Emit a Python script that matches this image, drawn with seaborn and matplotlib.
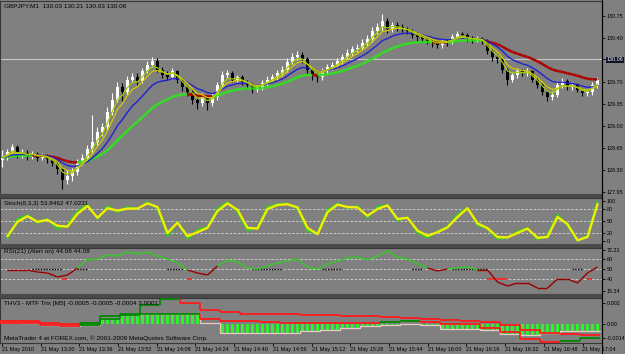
import numpy as np
import pandas as pd
import matplotlib
matplotlib.use("Agg")
import matplotlib.pyplot as plt
from matplotlib.collections import LineCollection
from matplotlib.patches import Rectangle
from matplotlib.lines import Line2D
import seaborn as sns

sns.set_theme(style="white")
plt.rcParams['font.family'] = ['Liberation Sans Narrow', 'Liberation Sans', 'DejaVu Sans']

# ---------------- data (2-minute bars) ----------------
first_open = 128.46
closes = [128.50,128.59,128.66,128.55,128.58,128.51,128.56,128.50,128.53,128.47,
          128.42,128.31,128.15,128.21,128.27,128.42,128.50,128.63,128.75,128.91,
          128.98,129.23,129.42,129.62,129.55,129.74,129.78,129.71,129.87,129.97,
          130.03,129.90,129.81,129.78,129.87,129.74,129.62,129.55,129.42,129.36,
          129.46,129.36,129.46,129.65,129.81,129.84,129.74,129.78,129.70,129.65,
          129.58,129.62,129.68,129.74,129.78,129.84,129.90,130.02,130.10,130.13,
          130.06,129.90,129.81,129.78,129.87,129.94,129.97,130.03,130.10,130.16,
          130.22,130.25,130.32,130.38,130.51,130.57,130.67,130.54,130.61,130.57,
          130.54,130.51,130.45,130.41,130.38,130.35,130.32,130.29,130.35,130.33,
          130.41,130.46,130.45,130.38,130.37,130.38,130.35,130.19,130.10,130.06,
          129.90,129.74,129.81,129.87,129.84,129.87,129.74,129.65,129.55,129.47,
          129.50,129.65,129.71,129.62,129.65,129.58,129.52,129.54,129.65,129.74]
highs = [128.62,128.64,128.72,128.70,128.63,128.62,128.60,128.59,128.58,128.56,
         128.50,128.45,128.35,128.30,128.33,128.47,128.56,128.70,129.18,128.98,
         129.05,129.30,129.52,129.70,129.68,129.80,129.85,129.84,129.93,130.03,
         130.10,130.08,129.94,129.88,129.92,129.90,129.77,129.66,129.58,129.46,
         129.52,129.50,129.52,129.70,129.88,129.90,129.88,129.82,129.82,129.74,
         129.68,129.67,129.73,129.79,129.83,129.90,129.96,130.08,130.16,130.20,
         130.18,130.10,129.94,129.86,129.92,129.99,130.02,130.08,130.15,130.22,
         130.28,130.31,130.38,130.45,130.58,130.64,130.78,130.72,130.66,130.65,
         130.62,130.58,130.55,130.49,130.45,130.42,130.40,130.36,130.40,130.39,
         130.46,130.52,130.50,130.48,130.43,130.43,130.41,130.38,130.23,130.14,
         130.09,129.93,129.86,129.92,129.91,129.93,129.90,129.78,129.68,129.58,
         129.56,129.72,129.76,129.75,129.70,129.68,129.61,129.58,129.70,129.78]
lows = [128.35,128.46,128.55,128.50,128.50,128.46,128.47,128.45,128.46,128.42,
        128.36,128.24,128.00,128.08,128.12,128.22,128.38,128.46,128.58,128.70,
        128.85,128.94,129.18,129.38,129.40,129.50,129.70,129.66,129.68,129.84,
        129.94,129.86,129.76,129.73,129.75,129.68,129.56,129.48,129.35,129.28,
        129.32,129.26,129.32,129.42,129.60,129.76,129.70,129.70,129.66,129.60,
        129.52,129.54,129.58,129.64,129.70,129.74,129.80,129.86,129.98,130.05,
        130.00,129.85,129.74,129.70,129.74,129.83,129.90,129.93,129.99,130.06,
        130.12,130.18,130.21,130.28,130.34,130.46,130.52,130.48,130.50,130.52,
        130.49,130.46,130.40,130.36,130.33,130.30,130.26,130.24,130.25,130.28,
        130.30,130.38,130.40,130.33,130.32,130.33,130.31,130.14,130.04,130.00,
        129.84,129.66,129.70,129.77,129.79,129.80,129.70,129.60,129.50,129.40,
        129.42,129.46,129.60,129.58,129.57,129.54,129.48,129.48,129.50,129.60]
bid_price = 130.06
price_ticks = [130.75, 130.40, 130.06, 129.70, 129.35, 129.00, 128.65, 128.30, 127.95]

# Stochastic (every second bar)
stoch_main = [12,48,62,48,53,38,36,68,88,58, 82,76,81,81,94,85,20,46,12,22,
              33,75,94,78,33,31,80,90,92,84, 33,17,72,91,85,84,63,80,89,55,
              58,26,13,22,34,60,82,44,32,10, 9,20,31,8,10,60,42,2,10,92]
stoch_signal = [5,55,65,45,55,30,40,75,92,55, 88,72,85,80,98,80,12,48,5,28,
                35,82,97,72,25,35,86,92,94,80, 25,20,78,94,82,88,58,86,90,50,
                60,20,8,25,36,66,84,40,30,5, 8,24,33,3,15,66,38,0,14,100]
stoch_levels = [20, 50, 80]

# RSI(21) (every second bar)
rsi = [49,49,49,47,46,42,44,51,60,60, 64,63,67,65,67,63,60,56,49,46,
       44,53,59,57,51,50,53,56,58,60, 52,50,55,58,61,62,59,63,68,62,
       60,55,51,48,50,51,52,49,49,37, 33,36,36,31,31,40,40,36,46,52]
rsi_levels = [60, 50, 40]
alert50_ranges = [(6,12),(15,17),(33,36),(50,56),(64,68),(82,84),(90,97),(114,116)]
alert40_ranges = [(12,13),(37,38),(97,101),(117,118)]

# THV3 MTF Trix (M5 steps = 4 bars each)
thv_upper = [0.00027,0.00027,0.00009,0.0,0.00009,0.00073,0.00100,0.00182,0.00236,0.00200,
             0.00136,0.00118,0.00100,0.00095,0.00091,0.00082,0.00082,0.00073,0.00073,0.00064,
             0.00055,0.00045,0.00036,0.00027,0.00018,-0.00009,-0.00064,-0.00091,-0.00100,-0.00109]
thv_lower = [0.00009,0.00009,-0.00009,-0.00018,-0.00009,0.00045,0.00082,0.00091,0.00091,0.00091,
             0.00045,0.00027,0.00027,0.00018,0.00009,0.00009,0.00009,0.00009,0.00009,0.00018,
             0.00027,0.00018,0.0,0.0,-0.00036,-0.00082,-0.00145,-0.00173,-0.00164,-0.00136]
thv_hist = [0.00018,0.00009,-0.00009,-0.00018,-0.00009,0.00055,0.00091,0.00100,0.00100,0.00091,
            0.00009,-0.00091,-0.00091,-0.00091,-0.00091,-0.00073,-0.00055,-0.00036,-0.00018,-0.00009,
            0.0,-0.00009,-0.00045,-0.00045,-0.00055,-0.00100,-0.00109,-0.00091,-0.00073,-0.00073]

time_labels = ["21 May 2010", "21 May 13:20", "21 May 13:36", "21 May 13:52", "21 May 14:08",
               "21 May 14:24", "21 May 14:40", "21 May 14:56", "21 May 15:12", "21 May 15:28",
               "21 May 15:44", "21 May 16:00", "21 May 16:16", "21 May 16:32", "21 May 16:48",
               "21 May 17:04"]

# ---------------- figure ----------------
BG = '#808080'
W, H = 625, 354
fig = plt.figure(figsize=(W / 100, H / 100), dpi=100, facecolor=BG)
PLOT_W = 602
YLAB = 3.9

def panel(top, bottom):
    ax = fig.add_axes([0, 1 - bottom / H, PLOT_W / W, (bottom - top) / H])
    ax.set_facecolor(BG)
    for s in ax.spines.values():
        s.set_color('#383838')
        s.set_linewidth(0.8)
    ax.spines['right'].set_color('black')
    ax.yaxis.tick_right()
    ax.tick_params(axis='y', which='both', direction='out', length=2, width=0.6,
                   color='black', labelsize=YLAB, pad=1.2, labelcolor='black', right=True)
    ax.tick_params(axis='x', bottom=False, labelbottom=False)
    ax.set_xlim(-0.5, 119.9)
    ax.grid(False)
    return ax

ax1 = panel(1, 194)
ax2 = panel(198, 244)
ax3 = panel(248, 294)
ax4 = panel(298, 343)

# ----- main price panel -----
n = len(closes)
df = pd.DataFrame({'bar': np.arange(n), 'close': closes, 'high': highs, 'low': lows})
df['open'] = np.r_[first_open, df['close'].values[:-1]]
up = df['close'] >= df['open']
ccol = np.where(up, 'white', 'black')
ax1.axhline(bid_price, color='#c8c8c8', lw=0.8, zorder=1)
ax1.vlines(df['bar'], df['low'], df['high'], colors=ccol, lw=0.8, zorder=2)
body_bot = np.minimum(df['open'], df['close'])
body_h = np.maximum((df['close'] - df['open']).abs(), 0.01)
ax1.bar(df['bar'], body_h, bottom=body_bot, width=0.55, color=ccol, linewidth=0, zorder=2)

for span in (3, 5, 10, 21):
    df[f'ema{span}'] = df['close'].ewm(span=span, adjust=False).mean()

# slow MA coloured by direction
slow = df['ema21'].values
segs, cols = [], []
state = 'red'
for i in range(1, n):
    d = slow[i] - slow[i - 1]
    if d > 0.002:
        state = 'green'
    elif d < -0.002:
        state = 'red'
    segs.append([(i - 1, slow[i - 1]), (i, slow[i])])
    cols.append('#33dd22' if state == 'green' else '#b00000')
ax1.add_collection(LineCollection(segs, colors=cols, linewidths=1.8, zorder=3))

sns.lineplot(data=df, x='bar', y='ema10', ax=ax1, color='#2222cc', lw=1.0, zorder=4)
sns.lineplot(data=df, x='bar', y='ema5', ax=ax1, color='#d8c800', lw=0.9, zorder=5)
sns.lineplot(data=df, x='bar', y='ema3', ax=ax1, color='#a0d000', lw=0.9, zorder=6)
ax1.set_ylim(127.92, 130.99)
ax1.set_yticks(price_ticks)
ax1.set_yticklabels([f'{p:.2f}' for p in price_ticks])
lbl = ax1.get_yticklabels()[price_ticks.index(bid_price)]
lbl.set_color('white')
lbl.set_bbox(dict(facecolor='#101028', edgecolor='none', pad=0.6))

# ----- stochastic -----
xs = np.arange(1, n, 2)
sdf = pd.DataFrame({'bar': xs, 'main': stoch_main, 'signal': stoch_signal})
for lv in stoch_levels:
    ax2.axhline(lv, color='#d8d8d8', lw=0.6, ls=(0, (3, 2)), zorder=1)
sns.lineplot(data=sdf, x='bar', y='signal', ax=ax2, color='#33cc22', lw=1.3, zorder=2)
sns.lineplot(data=sdf, x='bar', y='main', ax=ax2, color='#f0f000', lw=1.7, zorder=3)
ax2.set_ylim(-7.5, 107.5)
ax2.set_yticks([100, 80, 50, 20, 0])
ax2.set_yticklabels(['100', '80', '50', '20', '0'])

# ----- RSI -----
for lv in rsi_levels:
    ax3.axhline(lv, color='#d8d8d8', lw=0.6, ls=(0, (3, 2)), zorder=1)
rsegs, rcols = [], []
for j in range(1, len(rsi)):
    rsegs.append([(xs[j - 1], rsi[j - 1]), (xs[j], rsi[j])])
    rcols.append('#33cc22' if (rsi[j - 1] + rsi[j]) / 2 >= 50 else '#990000')
ax3.add_collection(LineCollection(rsegs, colors=rcols, linewidths=1.0, zorder=3))
for a, b in alert50_ranges:
    ax3.hlines(50, a, b, colors='black', linestyles=(0, (1, 1)), lw=1.0, zorder=2)
for a, b in alert40_ranges:
    ax3.hlines(40, a, b, colors='#ff2020', lw=1.2, zorder=2)
ax3.set_ylim(25, 71)
ax3.set_yticks([69, 60, 50, 40, 28])
ax3.set_yticklabels(['72.21', '60', '50', '40', '15.34'])

# ----- THV3 -----
STEP = 4
hist_bars = np.repeat(thv_hist, STEP)
ax4.bar(np.arange(len(hist_bars)), hist_bars, width=0.45, color='#30f030', linewidth=0, zorder=2)

def step_xy(vals):
    xe = np.arange(len(vals) + 1) * STEP - 0.5
    return xe, np.r_[vals, vals[-1]]

hx, hy = step_xy(thv_hist)
ax4.step(hx, hy, where='post', color='#ecc8c8', lw=0.9, zorder=3)

def coloured_step(vals, up_col, dn_col, start):
    segs, cols = [], []
    state = start
    for k, v in enumerate(vals):
        x0 = k * STEP - 0.5
        x1 = x0 + STEP
        if k > 0:
            if v > vals[k - 1]:
                state = 'up'
            elif v < vals[k - 1]:
                state = 'dn'
            c = up_col if state == 'up' else dn_col
            segs.append([(x0, vals[k - 1]), (x0, v)])
            cols.append(c)
        c = up_col if state == 'up' else dn_col
        segs.append([(x0, v), (x1, v)])
        cols.append(c)
    return LineCollection(segs, colors=cols, linewidths=1.3, zorder=4)

ax4.add_collection(coloured_step(thv_lower, '#008800', '#ff1a1a', 'dn'))
ax4.add_collection(coloured_step(thv_upper, '#008800', '#ff1a1a', 'dn'))
ax4.set_ylim(-0.00185, 0.00250)
ax4.set_yticks([0.002, 0.0, -0.0014])
ax4.set_yticklabels(['0.002', '0.00', '-0.0014'])

tick_pos = np.arange(len(time_labels)) * 7.74 - 0.1
ax4.set_xticks(tick_pos)
ax4.set_xticklabels(time_labels)
ax4.tick_params(axis='x', bottom=True, labelbottom=True, direction='out', length=2,
                width=0.6, color='black', labelsize=4.0, pad=1, labelcolor='black')
for t in ax4.get_xticklabels():
    t.set_ha('left')

for ax in (ax1, ax2, ax3, ax4):
    ax.set_xlabel('')
    ax.set_ylabel('')
    ax.set_xlim(-0.5, 119.9)
    if ax.get_legend() is not None:
        ax.get_legend().remove()

# separators and right border
for top in (194, 244, 294):
    fig.add_artist(Rectangle((0, 1 - (top + 4) / H), PLOT_W / W, 4 / H,
                             transform=fig.transFigure, facecolor='#4a4a4a',
                             edgecolor='none', zorder=10))
fig.add_artist(Line2D([PLOT_W / W, PLOT_W / W], [0, 1], transform=fig.transFigure,
                      color='black', lw=0.8, zorder=11))

# labels
def ftext(x, y, s):
    fig.text(x / W, 1 - y / H, s, fontsize=4.6, color='black', ha='left', va='center', zorder=12)

ftext(4, 6, "GBPJPY,M1  130.03 130.21 130.03 130.06")
ftext(4, 203, "Stoch(8,3,3) 53.8462 47.0231")
ftext(4, 252, "RSI(21) (Alert on) 44.08 44.08")
ftext(4, 303, "THV3 - MTF Trix [M5] -0.0005 -0.0005 -0.0004 3.0001")
ftext(4, 338, "MetaTrader 4 at FOREX.com, \u00a9 2001-2009 MetaQuotes Software Corp.")

fig.savefig('out.png', dpi=100, facecolor=BG)
